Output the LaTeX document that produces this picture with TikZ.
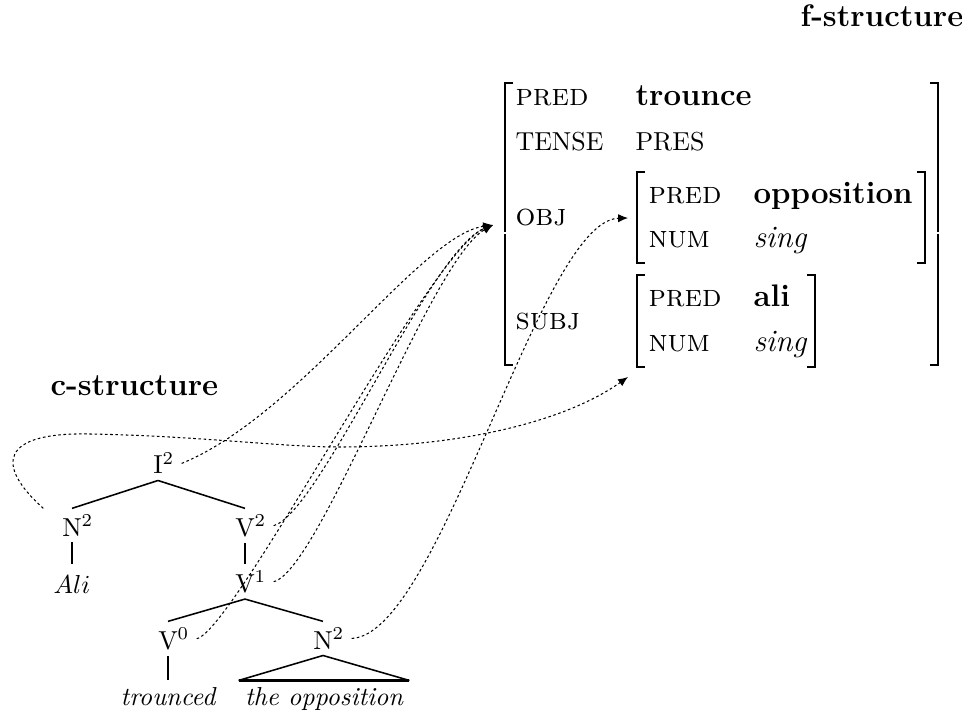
\documentclass[tikz,border=0pt]{standalone}
\usetikzlibrary{arrows.meta}
\begin{document}
\begin{tikzpicture}[x=0.385pt,y=-0.385pt,
  tn/.style={anchor=base,inner sep=0pt,outer sep=2.5pt},
  leaf/.style={anchor=base,inner sep=0pt,outer sep=2.5pt,font=\itshape},
  edge/.style={line width=0.6pt},
  attr/.style={anchor=base west,inner sep=0pt,font=\large\scshape},
  val/.style={anchor=base west,inner sep=0pt},
  brk/.style={line width=0.7pt},
  link/.style={line width=0.4pt,dash pattern=on 1pt off 1pt,-{Latex[length=3.8pt,width=3.2pt]}},
  title/.style={anchor=base west,inner sep=0pt,font=\large\bfseries}]
\useasboundingbox (0,0) rectangle (962,715);

% titles
\node[title] (cs) at (50,396) {c-structure};
\node[title] (fs) at (800,27) {f-structure};

% c-structure tree
\node[tn] (I2) at (158,474) {I\rlap{$^2$}};
\node[tn] (N2a) at (72,536) {N\rlap{$^2$}};
\node[tn] (V2) at (245,536) {V\rlap{$^2$}};
\node[tn,outer sep=4.4pt] (Ali) at (72,593) {$Ali$};
\node[tn] (V1) at (245,592) {V\rlap{$^1$}};
\node[tn] (V0) at (168,649) {V\rlap{$^0$}};
\node[tn] (N2b) at (323,649) {N\rlap{$^2$}};
\node[leaf] (trc) at (168,705) {trounced};
\node[leaf] (opp) at (324,705) {the opposition};

\draw[edge] (I2.south) -- (N2a.north);
\draw[edge] (I2.south) -- (V2.north);
\draw[edge] (N2a.south) -- (Ali.north);
\draw[edge] (V2.south) -- (V1.north);
\draw[edge] (V1.south) -- (V0.north);
\draw[edge] (V1.south) -- (N2b.north);
\draw[edge] (V0.south) -- (trc.north);
\draw[edge] (opp.north west) -- (N2b.south) -- (opp.north east);
\draw[line width=0.9pt] (opp.north west) -- (opp.north east);

% f-structure
\node[attr] (pred) at (515,106) {pred};
\node[val,font=\large\bfseries] (trounce) at (635,106) {trounce};
\node[val] (tense) at (515,151) {TENSE};
\node[val] (pres) at (635,151) {PRES};
\node[attr] (obj) at (515,226) {obj};
\node[attr] (pred2) at (648,204) {pred};
\node[val,font=\large\bfseries] (oppv) at (753,204) {opposition};
\node[attr] (num2) at (648,248) {num};
\node[val,font=\large\itshape] (sing2) at (753,248) {sing};
\node[attr] (subj) at (515,330) {subj};
\node[attr] (pred3) at (648,307) {pred};
\node[val,font=\large\bfseries] (aliv) at (753,307) {ali};
\node[attr] (num3) at (648,352) {num};
\node[val,font=\large\itshape] (sing3) at (753,352) {sing};

% brackets
\draw[brk] (513,83) -- (505,83) -- (505,232);
\draw[brk] (505,234.5) -- (505,365) -- (513,365);
\draw[brk] (930,83) -- (938,83) -- (938,232);
\draw[brk] (938,234.5) -- (938,365) -- (930,365);
\draw[brk] (645,172) -- (637,172) -- (637,263) -- (645,263);
\draw[brk] (917,172) -- (925,172) -- (925,263) -- (917,263);
\draw[brk] (645,275) -- (637,275) -- (637,367) -- (645,367);
\draw[brk] (807,275) -- (815,275) -- (815,367) -- (807,367);

% targets
\coordinate (fobj) at (493,225);
\coordinate (fopp) at (628,218);
\coordinate (fali) at (628,377);

% links
\draw[link] ([xshift=4.8pt]I2.east) .. controls (300,415) and (420,235) .. (fobj);
\draw[link] ([xshift=4.8pt]V2.east) .. controls (320,512) and (430,250) .. (fobj);
\draw[link] ([xshift=4.8pt]V1.east) .. controls (320,570) and (430,260) .. (fobj);
\draw[link] ([xshift=4.8pt]V0.east) .. controls (235,630) and (430,250) .. (fobj);
\draw[link] ([xshift=4.8pt]N2b.east) .. controls (440,635) and (540,220) .. (fopp);
\draw[link] ([xshift=-4.8pt]N2a.north west) .. controls (-5,465) and (0,432) .. (90,434)
  .. controls (200,436) and (280,447) .. (340,447)
  .. controls (450,447) and (560,425) .. (fali);
\end{tikzpicture}
\end{document}
